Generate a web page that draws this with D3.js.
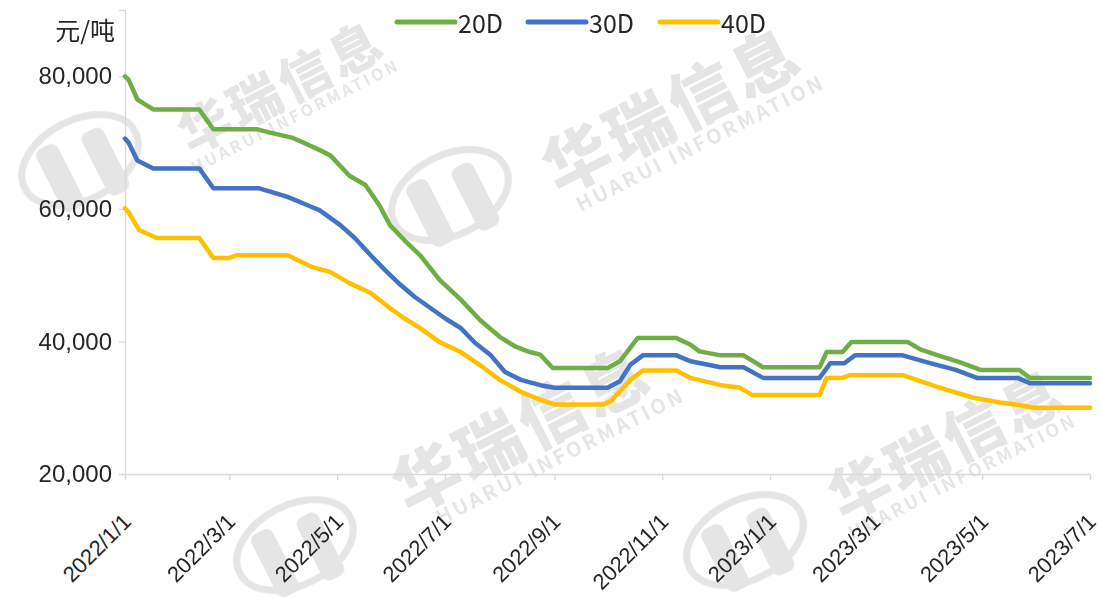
<!DOCTYPE html>
<html><head><meta charset="utf-8">
<script src="https://cdn.jsdelivr.net/npm/d3@7"></script>
<style>
html,body{margin:0;padding:0;background:#fff;}
svg{display:block;font-family:"Noto Sans CJK SC","Noto Sans",sans-serif;}
</style></head><body>
<svg id="chart" width="1100" height="598"></svg>
<script>
const seriesNames = ["20D", "30D", "40D"];
const seriesColors = ["#70ad47", "#4472c4", "#ffc000"];
const yTicks = [20000, 40000, 60000, 80000];
const xTickLabels = ["2022/1/1","2022/3/1","2022/5/1","2022/7/1","2022/9/1","2022/11/1","2023/1/1","2023/3/1","2023/5/1","2023/7/1"];
const unitLabel = "元/吨";

const dates20 = ["2022-01-01","2022-01-03","2022-01-08","2022-01-11","2022-01-17","2022-02-12","2022-02-20","2022-03-17","2022-03-24","2022-04-06","2022-04-21","2022-04-27","2022-05-08","2022-05-17","2022-05-25","2022-05-31","2022-06-08","2022-06-17","2022-06-28","2022-07-10","2022-07-21","2022-08-01","2022-08-10","2022-08-18","2022-08-24","2022-08-31","2022-10-01","2022-10-08","2022-10-18","2022-11-09","2022-11-17","2022-11-22","2022-12-04","2022-12-17","2022-12-28","2023-01-29","2023-02-02","2023-02-11","2023-02-16","2023-03-20","2023-03-27","2023-04-06","2023-04-19","2023-04-30","2023-05-22","2023-05-28","2023-07-01"];
const values20 = [80000,79500,76500,76000,75000,75000,72000,72000,71500,70700,68900,68100,65000,63600,60500,57500,55300,53000,49300,46300,43200,40700,39200,38400,38000,36000,36000,37000,40500,40500,39500,38500,37900,37900,36100,36100,38400,38400,39900,39900,38800,37900,36800,35700,35700,34500,34500];

const dates30 = ["2022-01-01","2022-01-03","2022-01-08","2022-01-17","2022-02-12","2022-02-20","2022-03-18","2022-04-03","2022-04-21","2022-05-03","2022-05-11","2022-05-20","2022-05-28","2022-06-06","2022-06-14","2022-06-23","2022-07-01","2022-07-10","2022-07-18","2022-07-27","2022-08-04","2022-08-13","2022-08-24","2022-09-01","2022-10-01","2022-10-08","2022-10-14","2022-10-21","2022-11-09","2022-11-17","2022-12-04","2022-12-17","2022-12-28","2023-01-29","2023-02-04","2023-02-12","2023-02-18","2023-03-17","2023-04-02","2023-04-16","2023-04-28","2023-05-21","2023-05-28","2023-07-01"];
const values30 = [70600,70000,67300,66100,66100,63100,63100,61800,59800,57500,55600,53000,50800,48500,46700,45000,43500,42000,39800,37900,35400,34200,33400,33000,33000,34000,36500,37900,37900,37000,36100,36100,34500,34500,36700,36700,37900,37900,36700,35700,34500,34500,33700,33700];

const dates40 = ["2022-01-01","2022-01-03","2022-01-09","2022-01-19","2022-02-12","2022-02-20","2022-03-01","2022-03-05","2022-04-03","2022-04-17","2022-04-27","2022-05-08","2022-05-20","2022-05-31","2022-06-08","2022-06-17","2022-06-28","2022-07-10","2022-07-21","2022-08-01","2022-08-13","2022-08-24","2022-09-01","2022-09-29","2022-10-03","2022-10-14","2022-10-21","2022-11-09","2022-11-17","2022-12-04","2022-12-15","2022-12-22","2023-01-29","2023-02-02","2023-02-11","2023-02-15","2023-03-17","2023-03-27","2023-04-06","2023-04-26","2023-05-11","2023-05-22","2023-05-30","2023-07-01"];
const values40 = [60100,59500,56800,55600,55600,52600,52600,53000,53000,51200,50500,48800,47300,45000,43500,42000,39900,38400,36400,34200,32400,31200,30500,30500,31000,34200,35600,35600,34500,33400,33000,31900,31900,34500,34500,34900,34900,34000,33100,31500,30800,30400,30000,30000];

const svg = d3.select("#chart");
const W = 1100, H = 598;
const m = {left:125, right:10, top:10, bottom:124};
const parse = d3.timeParse("%Y-%m-%d");

const x = d3.scaleTime().domain([parse("2022-01-01"), parse("2023-07-01")]).range([m.left, W - m.right]);
const y = d3.scaleLinear().domain([20000, 90000]).range([H - m.bottom, m.top]);

// watermark
const wmCol = "#a8a8a8";
const wm = svg.append("g").attr("fill", wmCol).attr("opacity", 0.3);
const marks = [
  {lx:80, ly:160, cx:280, cy:84, ex:295, ey:115, fs:52, fe:16},
  {lx:450, ly:195, cx:670, cy:106, ex:700, ey:142, fs:66, fe:20},
  {lx:295, ly:545, cx:520, cy:425, ex:560, ey:455, fs:66, fe:20},
  {lx:745, ly:540, cx:945, cy:440, ex:962, ey:475, fs:60, fe:18}
];
marks.forEach(w => {
  const g = wm.append("g").attr("transform", `translate(${w.lx},${w.ly}) rotate(-27)`);
  g.append("ellipse").attr("rx", 62).attr("ry", 40).attr("fill", "none").attr("stroke", wmCol).attr("stroke-width", 7);
  g.append("rect").attr("x", -38).attr("y", -28).attr("width", 24).attr("height", 70).attr("rx", 8);
  g.append("rect").attr("x", 10).attr("y", -22).attr("width", 24).attr("height", 70).attr("rx", 8);
  wm.append("text").attr("transform", `translate(${w.cx},${w.cy}) rotate(-27)`)
    .attr("text-anchor", "middle").attr("dominant-baseline", "central")
    .attr("font-size", w.fs).attr("font-weight", 900).attr("letter-spacing", 4).text("华瑞信息");
  wm.append("text").attr("transform", `translate(${w.ex},${w.ey}) rotate(-27)`)
    .attr("text-anchor", "middle").attr("dominant-baseline", "central")
    .attr("font-size", w.fe).attr("font-weight", 700).attr("letter-spacing", 3).text("HUARUI INFORMATION");
});

// axes
const xTickDates = d3.timeMonth.every(2).range(parse("2022-01-01"), parse("2023-07-02"));
const gx = svg.append("g").attr("transform", `translate(0,${H - m.bottom})`)
  .call(d3.axisBottom(x).tickValues(xTickDates).tickSize(6).tickFormat((d, i) => xTickLabels[i]));
gx.select(".domain").attr("stroke", "#d9d9d9").attr("stroke-width", 1.3);
gx.selectAll(".tick line").attr("stroke", "#d9d9d9").attr("stroke-width", 1.3);
gx.selectAll(".tick text")
  .attr("fill", "#262626").attr("font-size", 22)
  .attr("text-anchor", "end").attr("dy", null).attr("y", null)
  .attr("transform", "translate(7,49) rotate(-45)");

const gy = svg.append("g").attr("transform", `translate(${m.left},0)`)
  .call(d3.axisLeft(y).tickValues(yTicks).tickSize(6).tickPadding(7).tickFormat(d3.format(",")));
gy.select(".domain").attr("stroke", "#d9d9d9").attr("stroke-width", 1.3);
gy.selectAll(".tick line").attr("stroke", "#d9d9d9").attr("stroke-width", 1.3);
gy.selectAll(".tick text").attr("fill", "#262626").attr("font-size", 24);

svg.append("text").attr("x", 115).attr("y", 40).attr("text-anchor", "end")
  .attr("fill", "#262626").attr("font-size", 25).text(unitLabel);

// lines
const seriesDates = [dates20, dates30, dates40];
const seriesValues = [values20, values30, values40];
const line = d3.line().x(d => x(d[0])).y(d => y(d[1]));
seriesNames.forEach((name, i) => {
  const pts = seriesDates[i].map((d, j) => [parse(d), seriesValues[i][j]]);
  svg.append("path").datum(pts).attr("d", line)
    .attr("fill", "none").attr("stroke", seriesColors[i]).attr("stroke-width", 4.5)
    .attr("stroke-linejoin", "round").attr("stroke-linecap", "round");
});

// legend
const legX = [397, 528, 660];
seriesNames.forEach((name, i) => {
  const g = svg.append("g").attr("transform", `translate(${legX[i]},22)`);
  g.append("line").attr("x1", 0).attr("x2", 58).attr("y1", 0).attr("y2", 0)
    .attr("stroke", seriesColors[i]).attr("stroke-width", 5).attr("stroke-linecap", "round");
  g.append("text").attr("x", 61).attr("y", 0).attr("dominant-baseline", "central")
    .attr("fill", "#262626").attr("font-size", 25).text(name);
});
</script>
</body></html>
